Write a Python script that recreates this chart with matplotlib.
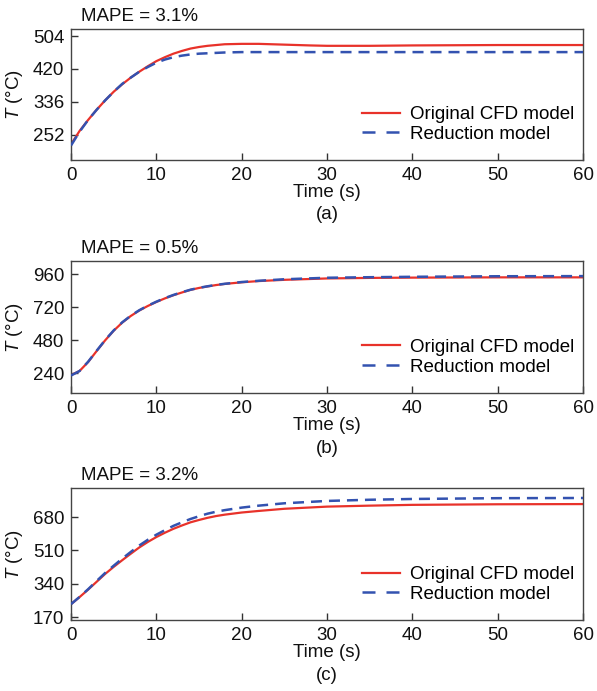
import matplotlib
matplotlib.use("Agg")
import matplotlib.pyplot as plt

plt.rcParams['font.family'] = ['Liberation Sans', 'DejaVu Sans']
plt.rcParams['mathtext.fontset'] = 'custom'
plt.rcParams['mathtext.it'] = 'Liberation Sans:italic'
plt.rcParams['mathtext.rm'] = 'Liberation Sans'

# ---- data ----
t_a = [0, 1, 2, 3, 4, 5, 6, 7, 8, 9, 10, 11, 12, 13, 14, 15, 16, 17, 18, 20, 22, 25, 28, 30, 35, 40, 50, 60]
orig_a = [228, 262, 290, 316, 340, 362, 381, 398, 413, 427, 440, 450, 459, 466, 472, 476, 479, 481, 483, 484,
          484, 482, 480, 479, 479, 480, 481, 481]
red_a = [225, 260, 290, 316, 340, 362, 382, 398, 413, 425, 436, 444, 450, 454, 457, 459, 460, 461, 462, 463,
         463, 463, 463, 463, 463, 463, 463, 463]

t_b = [0, 1, 2, 3, 4, 5, 6, 7, 8, 9, 10, 11, 12, 13, 14, 15, 16, 17, 18, 20, 22, 25, 30, 35, 40, 50, 60]
orig_b = [225, 255, 320, 400, 478, 548, 607, 655, 695, 728, 757, 783, 806, 826, 845, 859, 870, 880, 888, 900,
          909, 918, 928, 932, 934, 936, 936]
red_b = [222, 255, 322, 402, 480, 550, 609, 657, 697, 730, 759, 785, 808, 828, 846, 860, 871, 881, 889, 902,
         911, 922, 933, 937, 940, 944, 945]

t_c = [0, 1, 2, 3, 4, 5, 6, 7, 8, 9, 10, 11, 12, 13, 14, 15, 16, 17, 18, 20, 22, 25, 30, 35, 40, 50, 60]
orig_c = [236, 272, 310, 350, 390, 426, 460, 493, 525, 553, 578, 600, 620, 637, 653, 665, 676, 685, 692, 703,
          711, 722, 733, 738, 742, 745, 746]
red_c = [236, 273, 312, 354, 395, 432, 468, 502, 535, 564, 590, 613, 635, 653, 670, 684, 697, 707, 715, 728,
         738, 750, 762, 768, 772, 776, 777]

panels = [
    dict(t=t_a, orig=orig_a, red=red_a, mape="MAPE = 3.1%", yticks=[252, 336, 420, 504],
         ylim=(188, 522), label="(a)", rect=[0.119, 0.7685, 0.8576, 0.1896]),
    dict(t=t_b, orig=orig_b, red=red_b, mape="MAPE = 0.5%", yticks=[240, 480, 720, 960],
         ylim=(95, 1055), label="(b)", rect=[0.119, 0.4313, 0.8576, 0.1910]),
    dict(t=t_c, orig=orig_c, red=red_c, mape="MAPE = 3.2%", yticks=[170, 340, 510, 680],
         ylim=(155, 828), label="(c)", rect=[0.119, 0.1027, 0.8576, 0.1911]),
]

RED = '#e8322a'
BLUE = '#3352b0'
FS = 13.5

fig = plt.figure(figsize=(5.97, 6.91), dpi=100)
for p in panels:
    ax = fig.add_axes(p['rect'])
    ax.plot(p['t'], p['orig'], color=RED, lw=1.6, label='Original CFD model', zorder=2)
    ax.plot(p['t'], p['red'], color=BLUE, lw=1.8, dashes=(4.4, 2.8), label='Reduction model', zorder=3)
    ax.set_xlim(0, 60)
    ax.set_ylim(*p['ylim'])
    ax.set_xticks([0, 10, 20, 30, 40, 50, 60])
    ax.set_yticks(p['yticks'])
    ax.tick_params(direction='in', length=5, width=1, colors='#333333', labelcolor='#111111',
                   labelsize=FS, pad=5, top=False, right=False)
    for s in ax.spines.values():
        s.set_color('#444444')
        s.set_linewidth(1.0)
    ax.set_xlabel('Time (s)', fontsize=FS, labelpad=0, color='#111111')
    ax.set_ylabel(r'$T$ (°C)', fontsize=FS, color='#111111')
    ax.yaxis.set_label_coords(-0.09, 0.5)
    ax.text(0.02, 1.03, p['mape'], transform=ax.transAxes, fontsize=FS, ha='left', va='bottom',
            color='#111111')
    ax.text(0.5, -0.42, p['label'], transform=ax.transAxes, fontsize=FS, ha='center', va='center',
            color='#111111')
    leg = ax.legend(loc='lower right', frameon=False, fontsize=FS, handlelength=2.0,
                    handletextpad=0.53, borderaxespad=0.0, labelspacing=0.15,
                    bbox_to_anchor=(0.997, 0.072))
    leg.get_lines()[1].set_dashes((5.2, 4.4))

fig.savefig('out.png', dpi=100, facecolor='white')
